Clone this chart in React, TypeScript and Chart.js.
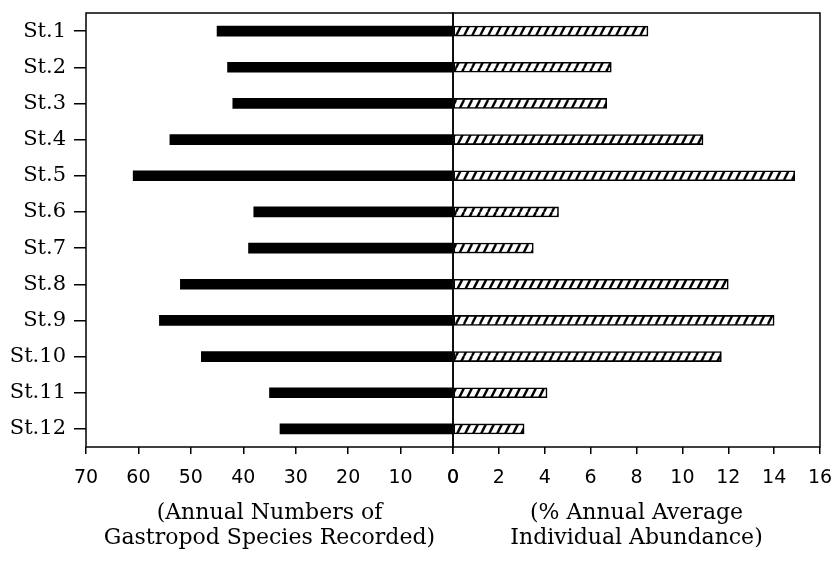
import React, { useEffect, useRef } from 'react';
import { Chart, registerables } from 'chart.js';

Chart.register(...registerables);

// ---- Data ----
const stations = ['St.1', 'St.2', 'St.3', 'St.4', 'St.5', 'St.6', 'St.7', 'St.8', 'St.9', 'St.10', 'St.11', 'St.12'];
const speciesNumbers = [45, 43, 42, 54, 61, 38, 39, 52, 56, 48, 35, 33];
const abundancePct = [8.5, 6.9, 6.7, 10.9, 14.9, 4.6, 3.5, 12.0, 14.0, 11.7, 4.1, 3.1];
const speciesAxis = { min: 0, max: 70, step: 10 };
const abundanceAxis = { min: 0, max: 16, step: 2 };
const leftTitle = ['(Annual Numbers of', 'Gastropod Species Recorded)'];
const rightTitle = ['(% Annual Average', 'Individual Abundance)'];

const W = 835;
const H = 567;
const EXTRA_TOP = 12; // canvases start above the page so label overflow fits
const EXTRA_RIGHT = 14;
const CW = W + EXTRA_RIGHT;
const CH = H + EXTRA_TOP;
const CENTER_X = 453;
const PLOT_LEFT = 86;
const PLOT_RIGHT = 820;
const PLOT_TOP = 13;
const X_AXIS_H = 120;

const tickFont = { family: 'DejaVu Sans', size: 19 };
const labelFont = { family: 'DejaVu Serif', size: 21 };
const titleFont = { family: 'DejaVu Serif', size: 22, lineHeight: 1.1 };

const framePlugin = {
  id: 'frame',
  afterDatasetsDraw(chart: any) {
    const { ctx, chartArea: a } = chart;
    ctx.save();
    ctx.strokeStyle = '#000';
    ctx.lineWidth = 1.5;
    ctx.strokeRect(a.left, a.top, a.right - a.left, a.bottom - a.top);
    ctx.restore();
  },
};

function makeHatch(): any {
  const c = document.createElement('canvas');
  c.width = 8;
  c.height = 16;
  const g = c.getContext('2d')!;
  g.fillStyle = '#fff';
  g.fillRect(0, 0, 8, 16);
  g.strokeStyle = '#000';
  g.lineWidth = 2.4;
  for (const dx of [-8, 0, 8]) {
    g.beginPath();
    g.moveTo(dx, 16);
    g.lineTo(dx + 8, 0);
    g.stroke();
  }
  return g.createPattern(c, 'repeat');
}

function xScale(axis: { min: number; max: number; step: number }, reverse: boolean, title: string[]) {
  return {
    type: 'linear',
    reverse,
    min: axis.min,
    max: axis.max,
    ticks: {
      stepSize: axis.step,
      color: '#000',
      font: tickFont,
      padding: 13,
      autoSkip: false,
      maxRotation: 0,
    },
    grid: { drawOnChartArea: false, drawTicks: true, tickLength: 7, color: '#000', lineWidth: 1.5 },
    border: { display: false },
    title: {
      display: true,
      text: title,
      align: 'center',
      color: '#000',
      font: titleFont,
      padding: { top: 0, bottom: 17 },
    },
    afterFit: (s: any) => {
      s.height = X_AXIS_H;
    },
  };
}

export default function App() {
  const leftRef = useRef<HTMLCanvasElement>(null);
  const rightRef = useRef<HTMLCanvasElement>(null);

  useEffect(() => {
    const hatch = makeHatch();
    const left = new Chart(leftRef.current!, {
      type: 'bar',
      data: {
        labels: stations,
        datasets: [
          {
            data: speciesNumbers,
            backgroundColor: '#000',
            borderWidth: 0,
            barThickness: 10,
          },
        ],
      },
      options: {
        indexAxis: 'y',
        responsive: false,
        animation: false,
        layout: { padding: { left: 0, right: CW - CENTER_X, top: PLOT_TOP + EXTRA_TOP, bottom: 0 } },
        plugins: { legend: { display: false }, tooltip: { enabled: false } },
        scales: {
          x: xScale(speciesAxis, true, leftTitle) as any,
          y: {
            ticks: { color: '#000', font: labelFont, padding: 8, autoSkip: false },
            grid: { offset: false, drawOnChartArea: false, drawTicks: true, tickLength: 12, color: '#000', lineWidth: 1.5 },
            border: { display: false },
            afterFit: (s: any) => {
              s.width = PLOT_LEFT;
            },
          },
        },
      },
      plugins: [framePlugin],
    });

    const right = new Chart(rightRef.current!, {
      type: 'bar',
      data: {
        labels: stations,
        datasets: [
          {
            data: abundancePct,
            backgroundColor: hatch,
            borderColor: '#000',
            borderWidth: 1.6,
            borderSkipped: false,
            barThickness: 10,
          },
        ],
      },
      options: {
        indexAxis: 'y',
        responsive: false,
        animation: false,
        layout: { padding: { left: CENTER_X, right: CW - PLOT_RIGHT, top: PLOT_TOP + EXTRA_TOP, bottom: 0 } },
        plugins: { legend: { display: false }, tooltip: { enabled: false } },
        scales: {
          x: xScale(abundanceAxis, false, rightTitle) as any,
          y: { display: false },
        },
      },
      plugins: [framePlugin],
    });

    return () => {
      left.destroy();
      right.destroy();
    };
  }, []);

  const cStyle: React.CSSProperties = { position: 'absolute', left: 0, top: -EXTRA_TOP, width: CW, height: CH };
  return (
    <div style={{ position: 'absolute', left: 0, top: 0, width: W, height: H, overflow: 'hidden', background: '#fff' }}>
      <canvas ref={leftRef} width={CW} height={CH} style={cStyle} />
      <canvas ref={rightRef} width={CW} height={CH} style={cStyle} />
    </div>
  );
}
